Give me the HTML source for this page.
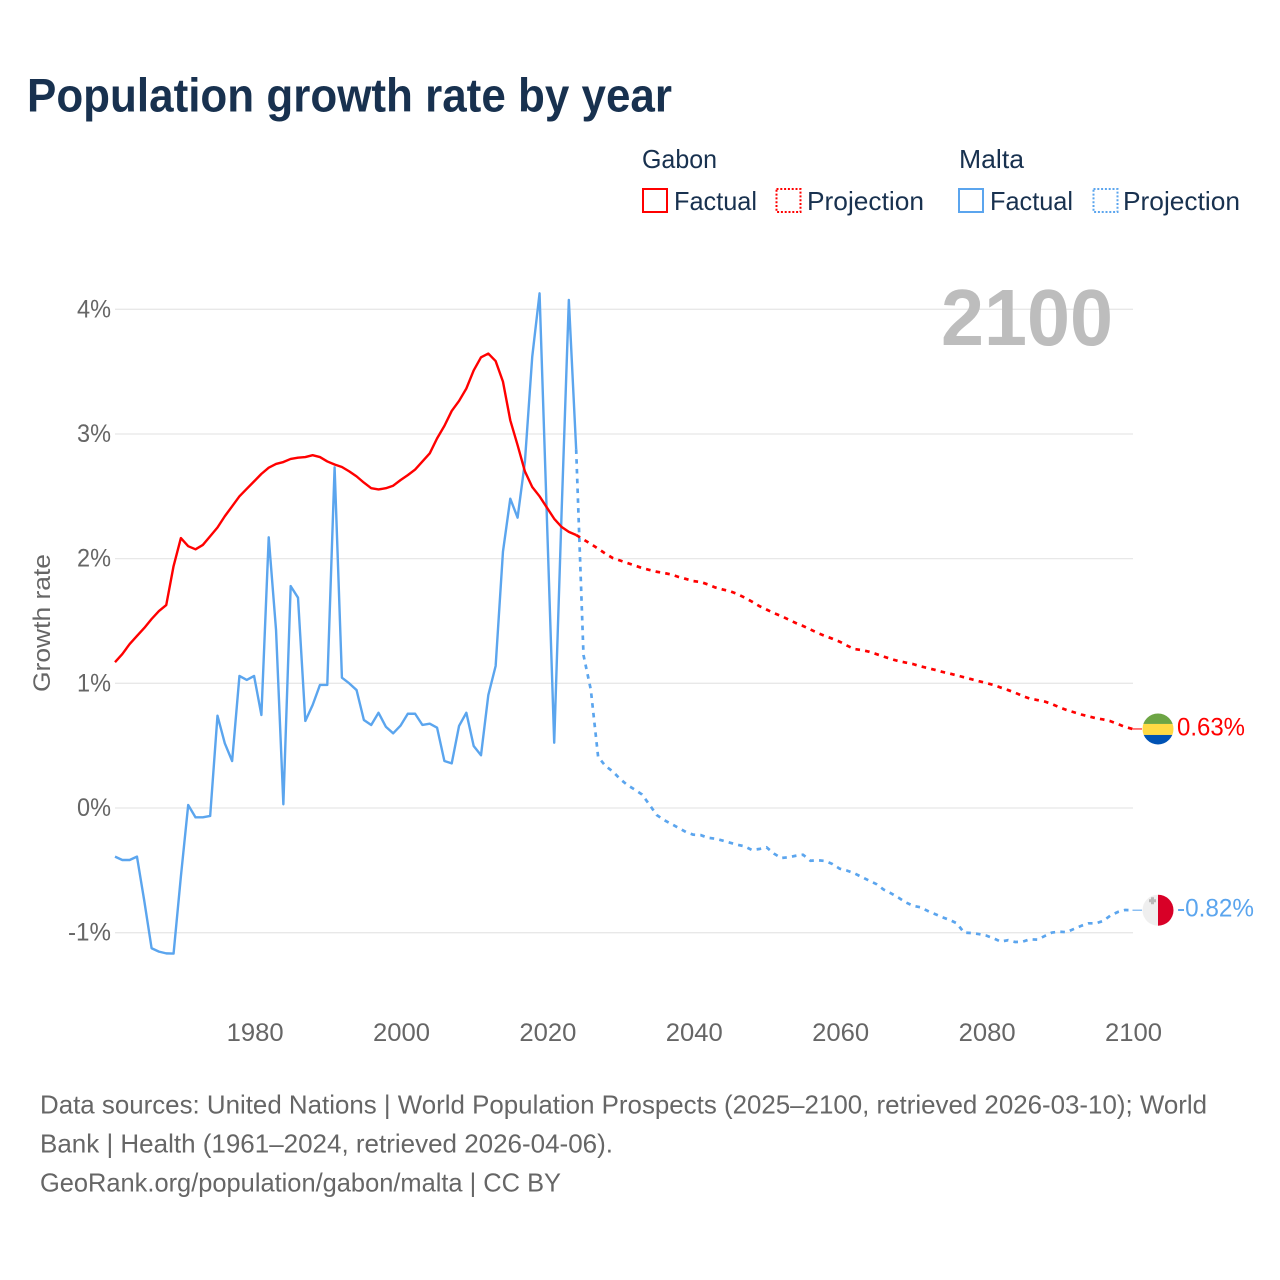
<!DOCTYPE html>
<html lang="en">
<head>
<meta charset="utf-8">
<title>Population growth rate by year</title>
<style>
html,body{margin:0;padding:0;background:#fff;width:1280px;height:1280px;overflow:hidden}
svg{display:block}
text{font-family:"Liberation Sans",sans-serif}
</style>
</head>
<body>
<svg id="chart" xmlns="http://www.w3.org/2000/svg" width="1280" height="1280" viewBox="0 0 1280 1280">
  <rect x="0" y="0" width="1280" height="1280" fill="#ffffff"/>
  <text x="27" y="111.5" font-size="47" font-weight="700" fill="#18314f" textLength="645" lengthAdjust="spacingAndGlyphs">Population growth rate by year</text>

  <g font-size="26" fill="#18314f">
    <text x="642" y="168" textLength="75" lengthAdjust="spacingAndGlyphs">Gabon</text>
    <rect x="643" y="189" width="24" height="23" fill="none" stroke="#ff0000" stroke-width="2"/>
    <text x="674" y="210" textLength="83" lengthAdjust="spacingAndGlyphs">Factual</text>
    <rect x="776.5" y="189" width="24" height="23" fill="none" stroke="#ff0000" stroke-width="2" stroke-dasharray="2 1.8"/>
    <text x="807" y="210" textLength="117" lengthAdjust="spacingAndGlyphs">Projection</text>
    <text x="959" y="168" textLength="65" lengthAdjust="spacingAndGlyphs">Malta</text>
    <rect x="959" y="189" width="24" height="23" fill="none" stroke="#5ba5ee" stroke-width="2"/>
    <text x="990" y="210" textLength="83" lengthAdjust="spacingAndGlyphs">Factual</text>
    <rect x="1093.5" y="189" width="24" height="23" fill="none" stroke="#5ba5ee" stroke-width="2" stroke-dasharray="2 1.8"/>
    <text x="1123" y="210" textLength="117" lengthAdjust="spacingAndGlyphs">Projection</text>
  </g>

  <g id="grid-layer"></g>
  <text x="941" y="345" font-size="80" font-weight="700" fill="#bdbdbd" textLength="172" lengthAdjust="spacingAndGlyphs">2100</text>
  <g id="y-tick-layer"></g>
  <g id="x-tick-layer"></g>
  <text transform="translate(50,623) rotate(-90)" text-anchor="middle" font-size="24.5" fill="#666666" textLength="138" lengthAdjust="spacingAndGlyphs">Growth rate</text>
  <g id="series-layer"></g>

  <defs>
    <clipPath id="flag-clip-gabon"><circle id="clip-circle-gabon" cx="1158" cy="729" r="15.5"/></clipPath>
    <clipPath id="flag-clip-malta"><circle id="clip-circle-malta" cx="1158" cy="910" r="15.5"/></clipPath>
  </defs>
  <g id="flag-gabon" clip-path="url(#flag-clip-gabon)">
    <rect x="1142" y="713" width="32" height="11" fill="#6da544"/>
    <rect x="1142" y="724" width="32" height="11" fill="#ffda44"/>
    <rect x="1142" y="735" width="32" height="11" fill="#0052b4"/>
  </g>
  <g id="flag-malta" clip-path="url(#flag-clip-malta)">
    <rect x="1142" y="894" width="16" height="32" fill="#efefef"/>
    <rect x="1158" y="894" width="16" height="32" fill="#d80027"/>
    <path d="M1151 897h3v2h2v3h-2v2h-3v-2h-2v-3h2z" fill="#b9b9b9"/>
  </g>
  <g id="end-label-layer"></g>

  <g font-size="26" fill="#666666">
    <text x="40" y="1113.5" textLength="1167" lengthAdjust="spacingAndGlyphs">Data sources: United Nations | World Population Prospects (2025–2100, retrieved 2026-03-10); World</text>
    <text x="40" y="1152.5" textLength="573" lengthAdjust="spacingAndGlyphs">Bank | Health (1961–2024, retrieved 2026-04-06).</text>
    <text x="40" y="1191.5" textLength="521" lengthAdjust="spacingAndGlyphs">GeoRank.org/population/gabon/malta | CC BY</text>
  </g>
</svg>
<script>
var yTickValues = [-1, 0, 1, 2, 3, 4];
var yTickLabels = ["-1%", "0%", "1%", "2%", "3%", "4%"];
var xTickYears = [1980, 2000, 2020, 2040, 2060, 2080, 2100];
var xTickLabels = ["1980", "2000", "2020", "2040", "2060", "2080", "2100"];
var factualStartYear = 1961;
var projectionStartYear = 2024;

var gabonFactual = [
  1.17, 1.235, 1.315, 1.38, 1.444, 1.516, 1.58, 1.628, 1.94, 2.165,
  2.10, 2.075, 2.11, 2.18, 2.25, 2.34, 2.42, 2.50, 2.56, 2.62,
  2.68, 2.73, 2.76, 2.775, 2.80, 2.81, 2.815, 2.83, 2.815, 2.78,
  2.755, 2.735, 2.70, 2.66, 2.61, 2.565, 2.555, 2.565, 2.585, 2.63,
  2.67, 2.715, 2.78, 2.845, 2.965, 3.065, 3.185, 3.265, 3.365, 3.51,
  3.615, 3.645, 3.585, 3.42, 3.11, 2.91, 2.70, 2.575, 2.50, 2.41,
  2.32, 2.255, 2.215, 2.19
];
var gabonProjection = [
  2.19, 2.154, 2.118, 2.08, 2.04, 2.005, 1.985, 1.965, 1.945, 1.925,
  1.91, 1.895, 1.885, 1.873, 1.853, 1.837, 1.82, 1.813, 1.793, 1.769,
  1.753, 1.739, 1.717, 1.688, 1.656, 1.62, 1.592, 1.564, 1.54, 1.512,
  1.484, 1.46, 1.432, 1.404, 1.38, 1.358, 1.334, 1.303, 1.275, 1.267,
  1.254, 1.235, 1.215, 1.195, 1.179, 1.167, 1.155, 1.137, 1.123, 1.108,
  1.092, 1.079, 1.064, 1.048, 1.033, 1.017, 1.003, 0.987, 0.966, 0.946,
  0.924, 0.898, 0.877, 0.866, 0.854, 0.834, 0.808, 0.786, 0.768, 0.75,
  0.735, 0.72, 0.71, 0.696, 0.674, 0.65, 0.634
];
var maltaFactual = [
  -0.39, -0.417, -0.417, -0.39, -0.745, -1.125, -1.152, -1.166, -1.168, -0.55,
  0.024, -0.075, -0.075, -0.064, 0.74, 0.519, 0.377, 1.059, 1.027, 1.059,
  0.746, 2.171, 1.428, 0.03, 1.78, 1.687, 0.698, 0.826, 0.987, 0.987,
  2.733, 1.045, 1.0, 0.946, 0.706, 0.666, 0.764, 0.652, 0.599, 0.66,
  0.756, 0.756, 0.666, 0.676, 0.644, 0.377, 0.358, 0.658, 0.764, 0.497,
  0.423, 0.906, 1.139, 2.056, 2.481, 2.329, 2.778, 3.62, 4.128, 2.33,
  0.524, 2.353, 4.075, 2.877
];
var maltaProjection = [
  2.877, 1.227, 0.95, 0.411, 0.337, 0.293, 0.233, 0.184, 0.148, 0.108,
  0.028, -0.056, -0.096, -0.128, -0.16, -0.193, -0.214, -0.217, -0.239, -0.246,
  -0.261, -0.278, -0.295, -0.307, -0.337, -0.329, -0.315, -0.365, -0.401, -0.395,
  -0.383, -0.375, -0.423, -0.419, -0.425, -0.449, -0.487, -0.502, -0.524, -0.553,
  -0.582, -0.61, -0.654, -0.684, -0.718, -0.756, -0.784, -0.796, -0.825, -0.85,
  -0.876, -0.897, -0.925, -1.0, -1.003, -1.011, -1.023, -1.045, -1.072, -1.06,
  -1.075, -1.072, -1.053, -1.056, -1.027, -0.999, -0.992, -0.996, -0.97, -0.945,
  -0.925, -0.925, -0.906, -0.862, -0.834, -0.818, -0.82
];

var NS = 'http://www.w3.org/2000/svg';
function xScale(year) { return 115 + (year - 1961) * 7.32; }
function yScale(value) { return 808 - value * 124.67; }
function pointsFor(values, startYear) {
  return values.map(function (v, i) {
    return xScale(startYear + i).toFixed(2) + ',' + yScale(v).toFixed(2);
  }).join(' ');
}

var gridLayer = document.getElementById('grid-layer');
var yTickLayer = document.getElementById('y-tick-layer');
yTickValues.forEach(function (v, i) {
  var line = document.createElementNS(NS, 'line');
  
  
  line.setAttribute('x1', 115);
  line.setAttribute('x2', 1133);
  line.setAttribute('y1', yScale(v));
  line.setAttribute('y2', yScale(v));
  line.setAttribute('stroke', '#e8e8e8');
  line.setAttribute('stroke-width', '1.3');
  gridLayer.appendChild(line);

  var t = document.createElementNS(NS, 'text');
  
  
  t.setAttribute('x', 111);
  t.setAttribute('y', yScale(v) + 8);
  t.setAttribute('text-anchor', 'end');
  t.setAttribute('font-size', '25');
  t.setAttribute('fill', '#666666');
  t.setAttribute('textLength', yTickLabels[i].length === 3 ? 43 : 34);
  t.setAttribute('lengthAdjust', 'spacingAndGlyphs');
  t.textContent = yTickLabels[i];
  yTickLayer.appendChild(t);
});

var xTickLayer = document.getElementById('x-tick-layer');
xTickYears.forEach(function (year, i) {
  var t = document.createElementNS(NS, 'text');
  
  
  t.setAttribute('x', xScale(year) + 1);
  t.setAttribute('y', 1041);
  t.setAttribute('text-anchor', 'middle');
  t.setAttribute('font-size', '25');
  t.setAttribute('fill', '#666666');
  t.setAttribute('textLength', 57);
  t.setAttribute('lengthAdjust', 'spacingAndGlyphs');
  t.textContent = xTickLabels[i];
  xTickLayer.appendChild(t);
});

var seriesLayer = document.getElementById('series-layer');
function addLine(name, values, startYear, color, dash) {
  var p = document.createElementNS(NS, 'polyline');
  
  
  p.setAttribute('points', pointsFor(values, startYear));
  p.setAttribute('fill', 'none');
  p.setAttribute('stroke', color);
  p.setAttribute('stroke-width', dash ? '2.7' : '2.4');
  p.setAttribute('stroke-linejoin', 'round');
  if (dash) { p.setAttribute('stroke-dasharray', dash); }
  seriesLayer.appendChild(p);
}
addLine('malta-factual-line', maltaFactual, factualStartYear, '#5ba5ee', null);
addLine('malta-projection-line', maltaProjection, projectionStartYear, '#5ba5ee', '4.6 5.2');
addLine('gabon-factual-line', gabonFactual, factualStartYear, '#ff0000', null);
addLine('gabon-projection-line', gabonProjection, projectionStartYear, '#ff0000', '4.6 5.2');

var endLabelLayer = document.getElementById('end-label-layer');
function addEnd(name, values, color, flagId, clipId, baseY, labelWidth) {
  var last = values[values.length - 1];
  var y = yScale(last);
  var leader = document.createElementNS(NS, 'line');
  
  
  leader.setAttribute('x1', xScale(2100));
  leader.setAttribute('x2', 1142);
  leader.setAttribute('y1', y);
  leader.setAttribute('y2', y);
  leader.setAttribute('stroke', color);
  leader.setAttribute('stroke-width', '1.3');
  leader.setAttribute('opacity', '0.8');
  seriesLayer.appendChild(leader);

  var dy = y - baseY;
  document.getElementById(flagId).setAttribute('transform', 'translate(0,' + dy.toFixed(2) + ')');

  var t = document.createElementNS(NS, 'text');
  
  
  t.setAttribute('x', 1177);
  t.setAttribute('y', y + 6.5);
  t.setAttribute('font-size', '25');
  t.setAttribute('fill', color);
  t.setAttribute('textLength', labelWidth);
  t.setAttribute('lengthAdjust', 'spacingAndGlyphs');
  t.textContent = last.toFixed(2) + '%';
  endLabelLayer.appendChild(t);
}
addEnd('gabon', gabonProjection, '#ff0000', 'flag-gabon', 'clip-circle-gabon', 729, 68);
addEnd('malta', maltaProjection, '#5ba5ee', 'flag-malta', 'clip-circle-malta', 910, 77);
</script>
</body>
</html>
